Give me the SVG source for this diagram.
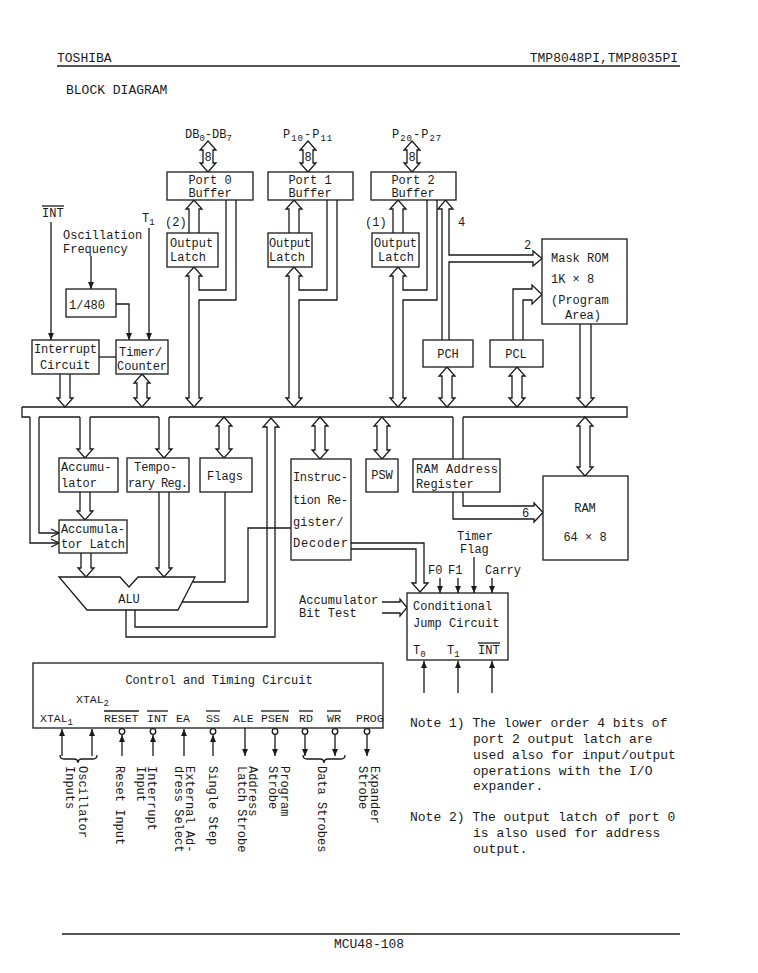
<svg xmlns="http://www.w3.org/2000/svg" width="758" height="973" viewBox="0 0 758 973">
<style>
.l{fill:none;stroke:#1a1a1a;stroke-width:1.3}
.b{fill:#fff;stroke:#1a1a1a;stroke-width:1.3}
.w{fill:#fff;stroke:#1a1a1a;stroke-width:1.3}
text{font-family:"Liberation Mono","DejaVu Sans Mono",monospace;font-size:12px;fill:#1a1a1a}
.n{font-size:13px}
.s{font-size:9px}
.p{font-size:11.5px}
</style>
<defs>
<marker id="ah" markerWidth="8" markerHeight="8" refX="7" refY="4" orient="auto" markerUnits="userSpaceOnUse"><path d="M0,1 L7,4 L0,7 z" fill="#1a1a1a"/></marker>
<marker id="ao" markerWidth="10" markerHeight="10" refX="9" refY="5" orient="auto" markerUnits="userSpaceOnUse"><path d="M1,1 L9,5 L1,9" fill="none" stroke="#1a1a1a" stroke-width="1.2"/></marker>
</defs>

<!-- header / footer -->
<g id="header">
<text class="n" x="57" y="62">TOSHIBA</text>
<text class="n" x="678" y="62" text-anchor="end">TMP8048PI,TMP8035PI</text>
<line class="l" x1="57" y1="66" x2="680" y2="66"/>
<text class="n" x="66" y="94">BLOCK DIAGRAM</text>
</g>
<g id="footer">
<line class="l" x1="62" y1="934" x2="680" y2="934"/>
<text class="n" x="369" y="948" text-anchor="middle">MCU48-108</text>
</g>

<!-- connectors -->
<g id="connectors">
<!-- bus -->
<path class="l" d="M22,407 L627,407 L627,417 L463,417 M453,417 L169,417 M159,417 L90,417 M80,417 L39,417 M30,417 L22,417 L22,407"/>
<!-- external port arrows -->
<polygon class="w" points="208,141 216,150 213,150 213,163 216,163 208,172 200,163 203,163 203,150 200,150"/>
<polygon class="w" points="308,141 316,150 313,150 313,163 316,163 308,172 300,163 303,163 303,150 300,150"/>
<polygon class="w" points="412,141 420,150 417,150 417,163 420,163 412,172 404,163 407,163 407,150 404,150"/>
<text x="208" y="161" text-anchor="middle" font-size="11">8</text>
<text x="308" y="161" text-anchor="middle" font-size="11">8</text>
<text x="412" y="161" text-anchor="middle" font-size="11">8</text>
<!-- latch to buffer -->
<polyline class="l" points="189,233 189,209 186,209 194,200 202,209 199,209 199,233"/>
<polyline class="l" points="289,233 289,209 286,209 294,200 302,209 299,209 299,233"/>
<polyline class="l" points="393,233 393,209 390,209 398,200 406,209 403,209 403,233"/>
<!-- port pipes -->
<path class="l" d="M226,200 L226,290 L199,290 L199,276 L202,276 L194,267 L186,276 L189,276 L189,398 L186,398 L194,407 L202,398 L199,398 L199,300 L236,300 L236,200"/>
<path class="l" d="M327,200 L327,290 L299,290 L299,276 L302,276 L294,267 L286,276 L289,276 L289,398 L286,398 L294,407 L302,398 L299,398 L299,300 L337,300 L337,200"/>
<path class="l" d="M427,200 L427,290 L403,290 L403,276 L406,276 L398,267 L390,276 L393,276 L393,398 L390,398 L398,407 L406,398 L403,398 L403,300 L437,300 L437,200"/>
<!-- PCH pipe (4) with branch (2) to ROM -->
<path class="l" d="M442,340 L442,209 L438,209 L445.5,200 L453,209 L449,209 L449,255 L533,255 L533,251 L542,258.5 L533,266 L533,262 L449,262 L449,340"/>
<!-- PCL pipe to ROM -->
<path class="l" d="M513,340 L513,289 L532,289 L532,285 L542,294.5 L532,304 L532,300 L523,300 L523,340"/>
<!-- ROM to bus -->
<path class="l" d="M580,324 L580,398 L577,398 L585.5,407 L594,398 L591,398 L591,324"/>
<!-- PCH/PCL to bus -->
<polygon class="w" points="447,367 455,376 452,376 452,398 455,398 447,407 439,398 442,398 442,376 439,376"/>
<polygon class="w" points="517,367 525,376 522,376 522,398 525,398 517,407 509,398 512,398 512,376 509,376"/>
<!-- interrupt/timer to bus -->
<polyline class="l" points="60,374 60,398 57,398 65,407 73,398 70,398 70,374"/>
<polygon class="w" points="142,374 150,383 147,383 147,398 150,398 142,407 134,398 137,398 137,383 134,383"/>
<!-- left control signal lines -->
<line class="l" x1="51" y1="222" x2="51" y2="340" marker-end="url(#ah)"/>
<line class="l" x1="149" y1="228" x2="149" y2="340" marker-end="url(#ah)"/>
<line class="l" x1="91" y1="256" x2="91" y2="289" marker-end="url(#ah)"/>
<polyline class="l" points="116,304 129,304 129,340" marker-end="url(#ah)"/>
<line class="l" x1="99" y1="357" x2="116" y2="357"/>
<!-- below bus -->
<polyline class="l" points="30,417 30,543 59,543" marker-end="url(#ao)"/>
<polyline class="l" points="39,417 39,533 59,533" marker-end="url(#ao)"/>
<polyline class="l" points="80,417 80,449 77,449 85,458 93,449 90,449 90,417"/>
<polyline class="l" points="159,417 159,449 156,449 164,458 172,449 169,449 169,417"/>
<polygon class="w" points="224,417 232,426 229,426 229,449 232,449 224,458 216,449 219,449 219,426 216,426"/>
<polygon class="w" points="320,417 328,426 325,426 325,450 328,450 320,459 312,450 315,450 315,426 312,426"/>
<polygon class="w" points="382,417 390,426 387,426 387,450 390,450 382,459 374,450 377,450 377,426 374,426"/>
<polygon class="w" points="585,417 593,426 590,426 590,467 593,467 585,476 577,467 580,467 580,426 577,426"/>
<line class="l" x1="453" y1="417" x2="453" y2="459"/>
<line class="l" x1="463" y1="417" x2="463" y2="459"/>
<path class="l" d="M453,492 L453,519 L534,519 L534,522 L543,512.5 L534,503 L534,506 L463,506 L463,492"/>
<text x="522" y="517" font-size="11">6</text>
<!-- accumulator chain -->
<polyline class="l" points="80,492 80,511 77,511 85,520 93,511 90,511 90,492"/>
<polyline class="l" points="81,553 81,568 78,568 86,577 94,568 91,568 91,553"/>
<polyline class="l" points="159,492 159,568 156,568 164,577 172,568 169,568 169,492"/>
<!-- flags / decoder to ALU -->
<polyline class="l" points="225,492 225,582 193,582"/>
<polyline class="l" points="291,528 248,528 248,602 182,602"/>
<!-- ALU to bus -->
<path class="l" d="M126,610 L126,637 L275,637 L275,427 L279,427 L271,418 L263,427 L267,427 L267,627 L135,627 L135,610"/>
<!-- decoder to conditional jump -->
<path class="l" d="M351,543 L424,543 L424,583 L428,583 L420,592 L412,583 L416,583 L416,549 L351,549"/>
<!-- accumulator bit test -->
<path class="l" d="M382,602 L400,602 L400,599 L407,607.5 L400,616 L400,613 L382,613"/>
<!-- CJ inputs -->
<line class="l" x1="440" y1="578" x2="440" y2="593" marker-end="url(#ah)"/>
<line class="l" x1="458" y1="578" x2="458" y2="593" marker-end="url(#ah)"/>
<line class="l" x1="474" y1="557" x2="474" y2="593" marker-end="url(#ah)"/>
<line class="l" x1="492" y1="578" x2="492" y2="593" marker-end="url(#ah)"/>
<line class="l" x1="424" y1="693" x2="424" y2="661" marker-end="url(#ah)"/>
<line class="l" x1="458" y1="693" x2="458" y2="661" marker-end="url(#ah)"/>
<line class="l" x1="492" y1="693" x2="492" y2="661" marker-end="url(#ah)"/>
<!-- control pins -->
<line class="l" x1="62" y1="756" x2="62" y2="729" marker-end="url(#ah)"/>
<line class="l" x1="92" y1="756" x2="92" y2="729" marker-end="url(#ah)"/>
<line class="l" x1="122" y1="756" x2="122" y2="735" marker-end="url(#ah)"/>
<line class="l" x1="153" y1="756" x2="153" y2="735" marker-end="url(#ah)"/>
<line class="l" x1="184" y1="756" x2="184" y2="729" marker-end="url(#ah)"/>
<line class="l" x1="213" y1="756" x2="213" y2="735" marker-end="url(#ah)"/>
<line class="l" x1="245" y1="728" x2="245" y2="756" marker-end="url(#ah)"/>
<line class="l" x1="275" y1="734" x2="275" y2="756" marker-end="url(#ah)"/>
<line class="l" x1="305" y1="734" x2="305" y2="756" marker-end="url(#ah)"/>
<line class="l" x1="335" y1="734" x2="335" y2="756" marker-end="url(#ah)"/>
<line class="l" x1="367" y1="734" x2="367" y2="756" marker-end="url(#ah)"/>
<circle class="w" cx="122" cy="731.5" r="2.8"/>
<circle class="w" cx="153" cy="731.5" r="2.8"/>
<circle class="w" cx="213" cy="731.5" r="2.8"/>
<circle class="w" cx="275" cy="731.5" r="2.8"/>
<circle class="w" cx="305" cy="731.5" r="2.8"/>
<circle class="w" cx="335" cy="731.5" r="2.8"/>
<circle class="w" cx="367" cy="731.5" r="2.8"/>
<path class="l" d="M60,755 Q60,759 64,759 L74,759 Q78,759 78,763 Q78,759 82,759 L93,759 Q97,759 97,755"/>
<path class="l" d="M303,755 Q303,759 307,759 L320,759 Q324,759 324,763 Q324,759 328,759 L341,759 Q345,759 345,755"/>
</g>

<!-- labels -->
<g id="port-labels">
<text x="185" y="138">DB<tspan class="s" dy="3">0</tspan><tspan dy="-3">-DB</tspan><tspan class="s" dy="3">7</tspan></text>
<text x="283" y="138" letter-spacing="1">P<tspan class="s" dy="3">10</tspan><tspan dy="-3">-P</tspan><tspan class="s" dy="3">11</tspan></text>
<text x="392" y="138" letter-spacing="1">P<tspan class="s" dy="3">20</tspan><tspan dy="-3">-P</tspan><tspan class="s" dy="3">27</tspan></text>
<text x="165" y="226">(2)</text>
<text x="365" y="226">(1)</text>
<text x="458" y="226">4</text>
<text x="524" y="249">2</text>
</g>
<g id="input-labels">
<text x="42" y="217">INT</text>
<line class="l" x1="42" y1="206" x2="64" y2="206"/>
<text x="142" y="222">T<tspan class="s" dy="3">1</tspan></text>
<text x="63" y="239">Oscillation</text>
<text x="63" y="253">Frequency</text>
</g>

<!-- nodes -->
<g id="port0-buffer"><rect class="b" x="167" y="172" width="86" height="28"/><text x="210" y="184" text-anchor="middle">Port 0</text><text x="210" y="197" text-anchor="middle">Buffer</text></g>
<g id="port1-buffer"><rect class="b" x="268" y="172" width="85" height="28"/><text x="310" y="184" text-anchor="middle">Port 1</text><text x="310" y="197" text-anchor="middle">Buffer</text></g>
<g id="port2-buffer"><rect class="b" x="371" y="172" width="85" height="28"/><text x="413" y="184" text-anchor="middle">Port 2</text><text x="413" y="197" text-anchor="middle">Buffer</text></g>
<g id="port0-latch"><rect class="b" x="167" y="233" width="51" height="34"/><text x="170" y="247">Output</text><text x="170" y="261">Latch</text></g>
<g id="port1-latch"><rect class="b" x="268" y="233" width="44" height="34"/><text x="269" y="247" textLength="42">Output</text><text x="269" y="261">Latch</text></g>
<g id="port2-latch"><rect class="b" x="372" y="233" width="47" height="34"/><text x="374" y="247" textLength="43">Output</text><text x="378" y="261">Latch</text></g>
<g id="mask-rom"><rect class="b" x="542" y="239" width="85" height="85"/><text x="551" y="262">Mask ROM</text><text x="551" y="283">1K × 8</text><text x="551" y="304">(Program</text><text x="565" y="319">Area)</text></g>
<g id="pch"><rect class="b" x="423" y="340" width="50" height="27"/><text x="448" y="358" text-anchor="middle">PCH</text></g>
<g id="pcl"><rect class="b" x="490" y="340" width="53" height="27"/><text x="516" y="358" text-anchor="middle">PCL</text></g>
<g id="divider"><rect class="b" x="66" y="289" width="50" height="28"/><text x="69" y="309">1/480</text></g>
<g id="interrupt-circuit"><rect class="b" x="32" y="340" width="67" height="34"/><text x="34" y="353" textLength="63">Interrupt</text><text x="40" y="369">Circuit</text></g>
<g id="timer-counter"><rect class="b" x="116" y="340" width="52" height="34"/><text x="119" y="356">Timer/</text><text x="117" y="370" textLength="50">Counter</text></g>
<g id="accumulator"><rect class="b" x="59" y="458" width="59" height="34"/><text x="61" y="471">Accumu-</text><text x="61" y="487">lator</text></g>
<g id="temp-reg"><rect class="b" x="127" y="458" width="62" height="34"/><text x="134" y="471">Tempo-</text><text x="128" y="487" textLength="60">rary Reg.</text></g>
<g id="flags"><rect class="b" x="200" y="458" width="52" height="34"/><text x="207" y="480">Flags</text></g>
<g id="accumulator-latch"><rect class="b" x="59" y="520" width="68" height="33"/><text x="61" y="533" textLength="64">Accumula-</text><text x="61" y="548" textLength="64">tor Latch</text></g>
<g id="alu"><polygon class="b" points="59,577 120,577 129,587 138,577 195,577 178,610 87,610"/><text x="129" y="603" text-anchor="middle">ALU</text></g>
<g id="instruction-decoder"><rect class="b" x="291" y="459" width="60" height="101"/><text x="293" y="481" textLength="55">Instruc-</text><text x="293" y="504" textLength="55">tion Re-</text><text x="293" y="526">gister/</text><text x="293" y="547" textLength="55">Decoder</text></g>
<g id="psw"><rect class="b" x="366" y="459" width="32" height="33"/><text x="382" y="479" text-anchor="middle">PSW</text></g>
<g id="ram-address-register"><rect class="b" x="413" y="459" width="87" height="33"/><text x="416" y="473" textLength="82">RAM Address</text><text x="416" y="488">Register</text></g>
<g id="ram"><rect class="b" x="543" y="476" width="85" height="84"/><text x="585" y="512" text-anchor="middle">RAM</text><text x="585" y="541" text-anchor="middle">64 × 8</text></g>
<g id="cj-labels">
<text x="457" y="540">Timer</text><text x="460" y="553">Flag</text>
<text x="428" y="574">F0</text><text x="448" y="574">F1</text><text x="485" y="574">Carry</text>
<text x="299" y="604">Accumulator</text><text x="299" y="617">Bit Test</text>
</g>
<g id="conditional-jump"><rect class="b" x="407" y="593" width="101" height="67"/><text x="413" y="610">Conditional</text><text x="413" y="627">Jump Circuit</text>
<text x="413" y="654">T<tspan class="s" dy="3">0</tspan></text><text x="447" y="654">T<tspan class="s" dy="3">1</tspan></text><text x="478" y="654">INT</text><line class="l" x1="478" y1="643" x2="500" y2="643"/></g>
<g id="control-timing"><rect class="b" x="33" y="663" width="350" height="65"/>
<text x="219" y="684" text-anchor="middle">Control and Timing Circuit</text>
<text class="p" x="76" y="703">XTAL<tspan class="s" dy="3">2</tspan></text>
<text class="p" x="40" y="722">XTAL<tspan class="s" dy="3">1</tspan></text>
<text class="p" x="104" y="722">RESET</text><line class="l" x1="104" y1="711" x2="139" y2="711"/>
<text class="p" x="147" y="722">INT</text><line class="l" x1="147" y1="711" x2="168" y2="711"/>
<text class="p" x="176" y="722">EA</text>
<text class="p" x="206" y="722">SS</text><line class="l" x1="206" y1="711" x2="220" y2="711"/>
<text class="p" x="233" y="722">ALE</text>
<text class="p" x="261" y="722">PSEN</text><line class="l" x1="261" y1="711" x2="289" y2="711"/>
<text class="p" x="299" y="722">RD</text><line class="l" x1="299" y1="711" x2="313" y2="711"/>
<text class="p" x="327" y="722">WR</text><line class="l" x1="327" y1="711" x2="341" y2="711"/>
<text class="p" x="356" y="722">PROG</text>
</g>
<g id="pin-descriptions">
<text transform="translate(79,766) rotate(90)">Oscillator</text>
<text transform="translate(66,766) rotate(90)">Inputs</text>
<text transform="translate(116,766) rotate(90)">Reset Input</text>
<text transform="translate(148,766) rotate(90)">Interrupt</text>
<text transform="translate(137,766) rotate(90)">Input</text>
<text transform="translate(186,766) rotate(90)">External Ad-</text>
<text transform="translate(175,766) rotate(90)">dress Select</text>
<text transform="translate(209,766) rotate(90)">Single Step</text>
<text transform="translate(249,766) rotate(90)">Address</text>
<text transform="translate(238,766) rotate(90)">Latch Strobe</text>
<text transform="translate(281,766) rotate(90)">Program</text>
<text transform="translate(269,766) rotate(90)">Strobe</text>
<text transform="translate(318,766) rotate(90)">Data Strobes</text>
<text transform="translate(371,766) rotate(90)">Expander</text>
<text transform="translate(359,766) rotate(90)">Strobe</text>
</g>
<g id="notes">
<text class="n" x="410" y="727">Note 1) The lower order 4 bits of</text>
<text class="n" x="473" y="743">port 2 output latch are</text>
<text class="n" x="473" y="759">used also for input/output</text>
<text class="n" x="473" y="775">operations with the I/O</text>
<text class="n" x="473" y="790">expander.</text>
<text class="n" x="410" y="821">Note 2) The output latch of port 0</text>
<text class="n" x="473" y="837">is also used for address</text>
<text class="n" x="473" y="853">output.</text>
</g>
</svg>
